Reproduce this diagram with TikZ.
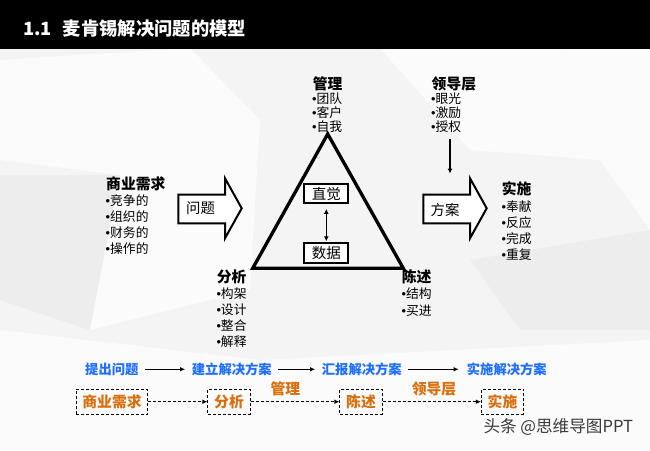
\documentclass[tikz,border=0pt]{standalone}
\usepackage{fontspec}
\setmainfont{Noto Sans CJK SC}
\newfontfamily\bulfont{Liberation Sans}
\usetikzlibrary{arrows.meta}
\definecolor{ybar}{HTML}{FFC000}
\definecolor{blu}{HTML}{1E6EFF}
\definecolor{org}{HTML}{DA6E0C}
\definecolor{bgA}{HTML}{F4F4F4}
\definecolor{bgB}{HTML}{FBFBFB}
\definecolor{bgC}{HTML}{EDEDED}
\definecolor{wm}{HTML}{3A3A3A}
\newcommand\bul{{\bulfont •}}
\tikzset{
  head/.style={font=\fontsize{14.8}{16}\selectfont\bfseries, anchor=west, inner sep=0pt},
  item/.style={font=\fontsize{12.8}{15}\selectfont, anchor=west, inner sep=0pt},
  sbox/.style={draw, line width=2pt, minimum width=44pt, minimum height=19.5pt, inner sep=0pt, fill=white, font=\fontsize{14.5}{15}\selectfont},
  btxt/.style={text=blu, font=\fontsize{13.3}{15}\selectfont\bfseries, anchor=west, inner sep=0pt},
  obox/.style={draw, dash pattern=on 3pt off 2pt, line width=0.9pt, text=org, font=\fontsize{14.8}{16}\selectfont\bfseries, minimum height=24.7pt, inner xsep=6.3pt, inner ysep=0pt},
  otxt/.style={text=org, font=\fontsize{14.8}{16}\selectfont\bfseries, inner sep=0pt},
  barr/.style={line width=1.1pt, -{Latex[length=5pt,width=4.5pt]}},
  darr/.style={line width=0.9pt, dash pattern=on 3pt off 2pt, -{Latex[length=5pt,width=4.5pt]}},
  karr/.style={line width=1.6pt, -{Latex[length=5pt,width=5pt]}},
  blockarr/.style={draw, line width=2pt, fill=white, line join=miter},
}
\begin{document}
\begin{tikzpicture}[x=1pt,y=-1pt]
\useasboundingbox (0,0) rectangle (650,450);
% background
\fill[bgA] (0,48) rectangle (650,450);
\fill[bgB] (0,60) -- (190,48) -- (260,120) -- (120,175) -- (0,160) -- cycle;
\fill[bgB] (380,48) -- (560,48) -- (600,160) -- (470,150) -- cycle;
\fill[bgB] (560,48) -- (650,48) -- (650,230) -- (600,160) -- cycle;
\fill[bgC] (0,175) -- (120,175) -- (90,330) -- (0,300) -- cycle;
\fill[bgB] (120,175) -- (260,120) -- (250,290) -- (90,330) -- cycle;
\fill[bgC] (470,260) -- (650,230) -- (650,330) -- (520,330) -- cycle;
\fill[bgB] (0,330) -- (260,360) -- (650,340) -- (650,450) -- (0,450) -- cycle;
% header
\fill[black] (0,0) rectangle (650,41);
\fill[ybar] (0,41) rectangle (650,48.7);
\node[anchor=west, inner sep=0pt, text=white, font=\fontsize{18.3}{20}\selectfont\bfseries] (title) at (23,28.5) {1.1\hspace{11pt}麦肯锡解决问题的模型};

% triangle
\coordinate (apex) at (327.7,134);
\coordinate (bl) at (252.7,268.3);
\coordinate (br) at (403.3,268.3);
\draw[line width=3.3pt, line join=miter] (apex) -- (bl) -- (br) -- cycle;
\node[sbox] (zj) at (326.3,193.7) {直觉};
\node[sbox] (sj) at (326.3,253) {数据};
\draw[line width=1.5pt, {Latex[length=5pt,width=5pt]}-{Latex[length=5pt,width=5pt]}, shorten <=4.5pt, shorten >=1pt] (zj.south) -- (sj.north);

% block arrows
\draw[blockarr] (178.3,194.5) -- (225,194.5) -- (225,178.3) -- (241.7,208.3) -- (225,238.3) -- (225,223.3) -- (178.3,223.3) -- cycle;
\node[anchor=west, inner sep=0pt, font=\fontsize{14.4}{15}\selectfont] (wt) at (186,208.5) {问题};
\draw[blockarr] (423.3,194.5) -- (470,194.5) -- (470,178.3) -- (486.7,208.3) -- (470,238.3) -- (470,223.3) -- (423.3,223.3) -- cycle;
\node[anchor=west, inner sep=0pt, font=\fontsize{14.4}{15}\selectfont] (fa) at (430.5,210) {方案};

% 管理
\node[head] (gl) at (312.7,83.5) {管理};
\foreach \t [count=\i] in {团队,客户,自我}
  \node[item] (gl\i) at (312,{98.3+14.2*(\i-1)}) {\bul\t};
% 领导层
\node[head] (ld) at (431.5,83.5) {领导层};
\foreach \t [count=\i] in {眼光,激励,授权}
  \node[item] (ld\i) at (431,{98.3+14.2*(\i-1)}) {\bul\t};
\coordinate (ldS) at (450,138.5);
\coordinate (ldE) at (450,173.5);
\draw[karr] (ldS) -- (ldE);
% 商业需求
\node[head] (sy) at (106,183.5) {商业需求};
\foreach \t [count=\i] in {竞争的,组织的,财务的,操作的}
  \node[item] (sy\i) at (105.5,{200.7+16.1*(\i-1)}) {\bul\t};
% 实施
\node[head] (ss) at (501.7,188.3) {实施};
\foreach \t [count=\i] in {奉献,反应,完成,重复}
  \node[item] (ss\i) at (501.5,{206.7+16.1*(\i-1)}) {\bul\t};
% 分析
\node[head] (fx) at (216.7,276.7) {分析};
\foreach \t [count=\i] in {构架,设计,整合,解释}
  \node[item] (fx\i) at (216.3,{294+15.9*(\i-1)}) {\bul\t};
% 陈述
\node[head] (cs) at (401.7,276.7) {陈述};
\foreach \t [count=\i] in {结构,买进}
  \node[item] (cs\i) at (401.5,{294+16.5*(\i-1)}) {\bul\t};

% blue row
\node[btxt] (b1) at (85,369.3) {提出问题};
\node[btxt] (b2) at (191.7,369.3) {建立解决方案};
\node[btxt] (b3) at (321.7,369.3) {汇报解决方案};
\node[btxt] (b4) at (466.7,369.3) {实施解决方案};
\draw[barr] ([xshift=6.5pt]b1.east) -- ([xshift=-6.5pt]b2.west);
\draw[barr] ([xshift=6.5pt]b2.east) -- ([xshift=-6.5pt]b3.west);
\draw[barr] ([xshift=6.5pt]b3.east) -- ([xshift=-8pt]b4.west);

% orange row
\node[obox] (o1) at (112,401.7) {商业需求};
\node[obox] (o2) at (229,401.7) {分析};
\node[obox] (o3) at (361,401.7) {陈述};
\node[obox] (o4) at (502.5,401.7) {实施};
\draw[darr] (o1.east) -- (o2.west);
\draw[darr] (o2.east) -- (o3.west);
\draw[darr] (o3.east) -- (o4.west);
\node[otxt] (ogl) at (285.3,389) {管理};
\node[otxt] (old) at (434,389) {领导层};

% watermark
\node[anchor=west, inner sep=0pt, text=wm, font=\fontsize{16.6}{18}\selectfont] (wmk) at (483.3,427) {头条 @思维导图PPT};
\end{tikzpicture}
\end{document}
